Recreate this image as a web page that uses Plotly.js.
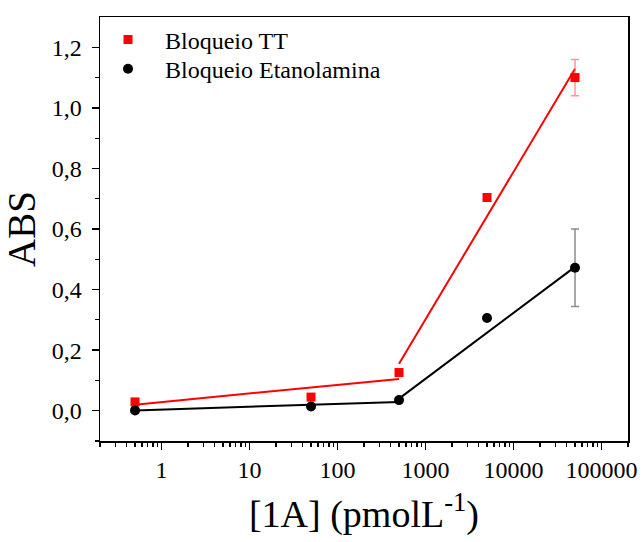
<!DOCTYPE html>
<html>
<head>
<meta charset="utf-8">
<script src="https://cdn.plot.ly/plotly-3.0.1.min.js"></script>
<style>html,body{margin:0;padding:0;background:#fff;}</style>
</head>
<body>
<div id="chart" style="width:644px;height:542px;"></div>
<script>
// Data
const conc = [0.5, 50, 500, 5000, 50000];
const absTT = [0.029, 0.045, 0.126, 0.704, 1.100];
const errTT = [0.006, 0.006, 0.006, 0.010, 0.060];
const absEta = [0.001, 0.014, 0.035, 0.306, 0.472];
const errEta = [0.004, 0.004, 0.004, 0.006, 0.128];

// Linear fits (y vs log x), two regions each
const fitLowX = [0.5, 500];
const fitHighX = [500, 50000];
const fitTTLow = [0.020, 0.105];
const fitTTHigh = [0.155, 1.129];
const fitEtaLow = [0.001, 0.029];
const fitEtaHigh = [0.040, 0.475];

// Tick labels
const xTickVals = [1, 10, 100, 1000, 10000, 100000];
const xTickText = ['1', '10', '100', '1000', '10000', '100000'];
const yTickVals = [0, 0.2, 0.4, 0.6, 0.8, 1.0, 1.2];
const yTickText = ['0,0', '0,2', '0,4', '0,6', '0,8', '1,0', '1,2'];

const xMinor = [];
for (let d = -1; d <= 5; d++) {
  for (let m = 2; m <= 9; m++) {
    const v = m * Math.pow(10, d);
    if (v >= 0.2 && v <= 200000) xMinor.push(v);
  }
}
const yMinor = [-0.1, 0.1, 0.3, 0.5, 0.7, 0.9, 1.1];

const font = 'Liberation Serif, Times New Roman, serif';

const traces = [
  {x: fitLowX, y: fitTTLow, mode: 'lines', line: {color: '#ff0000', width: 2}, showlegend: false, hoverinfo: 'skip'},
  {x: fitHighX, y: fitTTHigh, mode: 'lines', line: {color: '#ff0000', width: 2}, showlegend: false, hoverinfo: 'skip'},
  {x: fitLowX, y: fitEtaLow, mode: 'lines', line: {color: '#000000', width: 2}, showlegend: false, hoverinfo: 'skip'},
  {x: fitHighX, y: fitEtaHigh, mode: 'lines', line: {color: '#000000', width: 2}, showlegend: false, hoverinfo: 'skip'},
  {
    x: conc, y: absTT, name: 'Bloqueio TT', mode: 'markers', legend: 'legend',
    marker: {symbol: 'square', size: 9, color: '#ff0000'},
    error_y: {type: 'data', array: errTT, visible: true, color: 'rgba(255,80,80,0.6)', thickness: 1.5, width: 4}
  },
  {
    x: conc, y: absEta, name: 'Bloqueio Etanolamina', mode: 'markers', legend: 'legend2',
    marker: {symbol: 'circle', size: 10, color: '#000000'},
    error_y: {type: 'data', array: errEta, visible: true, color: '#8c8c8c', thickness: 1.5, width: 4}
  }
];

const legendBase = {xanchor: 'left', yanchor: 'top', bgcolor: 'rgba(0,0,0,0)', itemwidth: 64,
                    font: {family: font, size: 24, color: '#000'}};

const layout = {
  width: 644, height: 542,
  margin: {l: 100, r: 16, t: 17, b: 101},
  paper_bgcolor: '#ffffff', plot_bgcolor: '#ffffff',
  font: {family: font, color: '#000', size: 24},
  showlegend: true,
  legend: Object.assign({x: -0.017, y: 0.999}, legendBase),
  legend2: Object.assign({x: -0.017, y: 0.930}, legendBase),
  xaxis: {
    type: 'log', range: [Math.log10(0.2), Math.log10(200000)],
    tickmode: 'array', tickvals: xTickVals, ticktext: xTickText,
    ticks: 'outside', ticklen: 7, tickwidth: 1.5, tickcolor: '#000',
    minor: {tickmode: 'array', tickvals: xMinor, ticks: 'outside', ticklen: 4, tickwidth: 1.2, tickcolor: '#000', showgrid: false},
    showline: true, linecolor: '#000', linewidth: 1.5, mirror: true,
    showgrid: false, zeroline: false,
    tickfont: {family: font, size: 24, color: '#000'},
    title: {text: '[1A] (pmolL<sup>-1</sup>)', font: {family: font, size: 38, color: '#000'}, standoff: 18}
  },
  yaxis: {
    range: [-0.1, 1.3],
    tickmode: 'array', tickvals: yTickVals, ticktext: yTickText,
    ticks: 'outside', ticklen: 7, tickwidth: 1.5, tickcolor: '#000',
    ticklabelstandoff: 5,
    minor: {tickmode: 'array', tickvals: yMinor, ticks: 'outside', ticklen: 4, tickwidth: 1.2, tickcolor: '#000', showgrid: false},
    showline: true, linecolor: '#000', linewidth: 1.5, mirror: true,
    showgrid: false, zeroline: false,
    tickfont: {family: font, size: 24, color: '#000'},
    title: {text: 'ABS', font: {family: font, size: 39, color: '#000'}, standoff: 8}
  }
};

Plotly.newPlot('chart', traces, layout, {displayModeBar: false, staticPlot: true});
</script>
</body>
</html>
